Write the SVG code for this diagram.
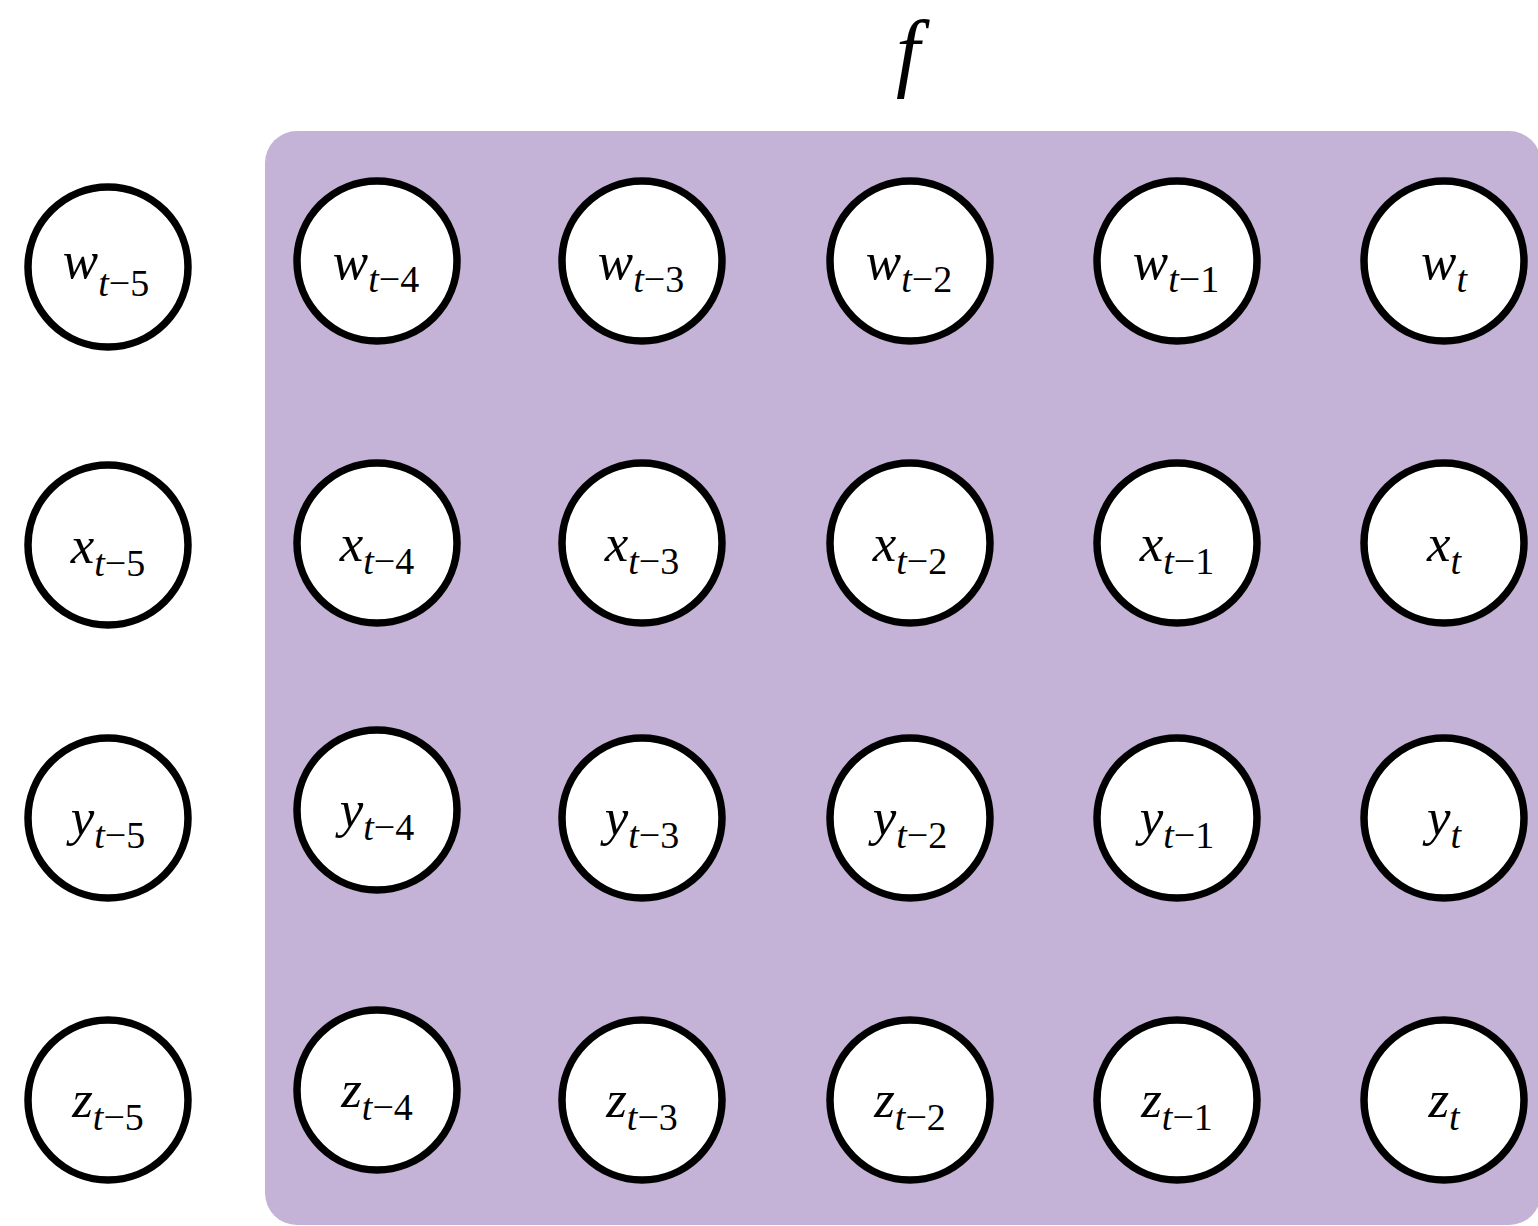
<svg xmlns="http://www.w3.org/2000/svg" width="1538" height="1226" viewBox="0 0 1538 1226">
<style>
.n{fill:#ffffff;stroke:#000000;stroke-width:7.5}
.l{font-family:"Times New Roman","Liberation Serif",Tinos,"Nimbus Roman","Noto Serif",serif;font-size:53px;fill:#000;text-anchor:middle}
.f{font-family:"Times New Roman","Liberation Serif",Tinos,"Nimbus Roman","Noto Serif",serif;font-style:italic;font-size:86px;fill:#000;text-anchor:middle}
.i{font-style:italic}
.s{font-size:38px}
</style>
<rect x="0" y="0" width="1538" height="1226" fill="#ffffff"/>
<rect id="f-box" x="265" y="131" width="1276" height="1094" rx="32" ry="32" fill="#c4b3d6"/>
<text class="f" x="908" y="80">f</text>
<g id="connectors"></g>
<g id="w_t-5"><circle class="n" cx="108" cy="267" r="80"/><text class="l" x="106" y="278"><tspan class="i">w</tspan><tspan class="s i" dy="18">t</tspan><tspan class="s">−5</tspan></text></g>
<g id="w_t-4"><circle class="n" cx="377" cy="261" r="80"/><text class="l" x="376" y="279"><tspan class="i">w</tspan><tspan class="s i" dy="13">t</tspan><tspan class="s">−4</tspan></text></g>
<g id="w_t-3"><circle class="n" cx="642" cy="261" r="80"/><text class="l" x="641" y="279"><tspan class="i">w</tspan><tspan class="s i" dy="13">t</tspan><tspan class="s">−3</tspan></text></g>
<g id="w_t-2"><circle class="n" cx="910" cy="261" r="80"/><text class="l" x="909" y="279"><tspan class="i">w</tspan><tspan class="s i" dy="13">t</tspan><tspan class="s">−2</tspan></text></g>
<g id="w_t-1"><circle class="n" cx="1177" cy="261" r="80"/><text class="l" x="1176" y="279"><tspan class="i">w</tspan><tspan class="s i" dy="13">t</tspan><tspan class="s">−1</tspan></text></g>
<g id="w_t"><circle class="n" cx="1444" cy="261" r="80"/><text class="l" x="1444" y="279"><tspan class="i">w</tspan><tspan class="s i" dy="13">t</tspan></text></g>
<g id="x_t-5"><circle class="n" cx="108" cy="545" r="80"/><text class="l" x="108" y="563"><tspan class="i">x</tspan><tspan class="s i" dy="13">t</tspan><tspan class="s">−5</tspan></text></g>
<g id="x_t-4"><circle class="n" cx="377" cy="543" r="80"/><text class="l" x="377" y="561"><tspan class="i">x</tspan><tspan class="s i" dy="13">t</tspan><tspan class="s">−4</tspan></text></g>
<g id="x_t-3"><circle class="n" cx="642" cy="543" r="80"/><text class="l" x="642" y="561"><tspan class="i">x</tspan><tspan class="s i" dy="13">t</tspan><tspan class="s">−3</tspan></text></g>
<g id="x_t-2"><circle class="n" cx="910" cy="543" r="80"/><text class="l" x="910" y="561"><tspan class="i">x</tspan><tspan class="s i" dy="13">t</tspan><tspan class="s">−2</tspan></text></g>
<g id="x_t-1"><circle class="n" cx="1177" cy="543" r="80"/><text class="l" x="1177" y="561"><tspan class="i">x</tspan><tspan class="s i" dy="13">t</tspan><tspan class="s">−1</tspan></text></g>
<g id="x_t"><circle class="n" cx="1444" cy="543" r="80"/><text class="l" x="1444" y="561"><tspan class="i">x</tspan><tspan class="s i" dy="13">t</tspan></text></g>
<g id="y_t-5"><circle class="n" cx="108" cy="818" r="80"/><text class="l" x="108" y="835"><tspan class="i">y</tspan><tspan class="s i" dy="13">t</tspan><tspan class="s">−5</tspan></text></g>
<g id="y_t-4"><circle class="n" cx="377" cy="810" r="80"/><text class="l" x="377" y="827"><tspan class="i">y</tspan><tspan class="s i" dy="13">t</tspan><tspan class="s">−4</tspan></text></g>
<g id="y_t-3"><circle class="n" cx="642" cy="818" r="80"/><text class="l" x="642" y="835"><tspan class="i">y</tspan><tspan class="s i" dy="13">t</tspan><tspan class="s">−3</tspan></text></g>
<g id="y_t-2"><circle class="n" cx="910" cy="818" r="80"/><text class="l" x="910" y="835"><tspan class="i">y</tspan><tspan class="s i" dy="13">t</tspan><tspan class="s">−2</tspan></text></g>
<g id="y_t-1"><circle class="n" cx="1177" cy="818" r="80"/><text class="l" x="1177" y="835"><tspan class="i">y</tspan><tspan class="s i" dy="13">t</tspan><tspan class="s">−1</tspan></text></g>
<g id="y_t"><circle class="n" cx="1444" cy="818" r="80"/><text class="l" x="1444" y="835"><tspan class="i">y</tspan><tspan class="s i" dy="13">t</tspan></text></g>
<g id="z_t-5"><circle class="n" cx="108" cy="1100" r="80"/><text class="l" x="108" y="1117"><tspan class="i">z</tspan><tspan class="s i" dy="13">t</tspan><tspan class="s">−5</tspan></text></g>
<g id="z_t-4"><circle class="n" cx="377" cy="1090" r="80"/><text class="l" x="377" y="1107"><tspan class="i">z</tspan><tspan class="s i" dy="13">t</tspan><tspan class="s">−4</tspan></text></g>
<g id="z_t-3"><circle class="n" cx="642" cy="1100" r="80"/><text class="l" x="642" y="1117"><tspan class="i">z</tspan><tspan class="s i" dy="13">t</tspan><tspan class="s">−3</tspan></text></g>
<g id="z_t-2"><circle class="n" cx="910" cy="1100" r="80"/><text class="l" x="910" y="1117"><tspan class="i">z</tspan><tspan class="s i" dy="13">t</tspan><tspan class="s">−2</tspan></text></g>
<g id="z_t-1"><circle class="n" cx="1177" cy="1100" r="80"/><text class="l" x="1177" y="1117"><tspan class="i">z</tspan><tspan class="s i" dy="13">t</tspan><tspan class="s">−1</tspan></text></g>
<g id="z_t"><circle class="n" cx="1444" cy="1100" r="80"/><text class="l" x="1444" y="1117"><tspan class="i">z</tspan><tspan class="s i" dy="13">t</tspan></text></g>
</svg>
